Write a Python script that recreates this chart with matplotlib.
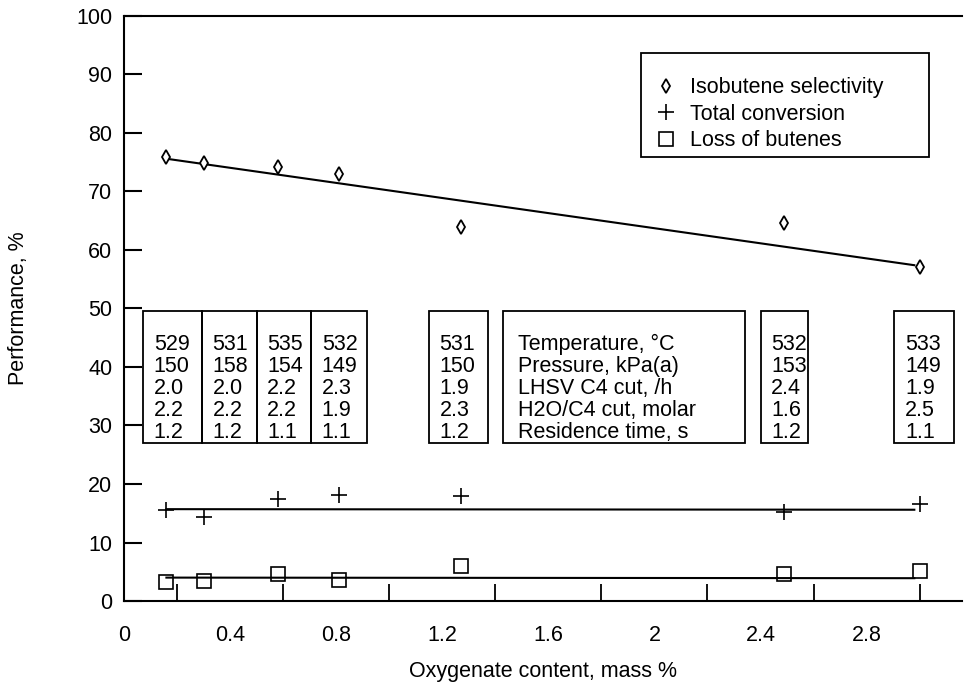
import matplotlib.pyplot as plt
from matplotlib.patches import Rectangle
import numpy as np

plt.rcParams['font.family'] = ['Liberation Sans', 'DejaVu Sans']

# Datos
oxygenate = [0.16, 0.30, 0.58, 0.81, 1.27, 2.49, 3.00]
selectivity = [75.9, 74.9, 74.2, 73.0, 63.9, 64.6, 57.1]
conversion = [15.6, 14.4, 17.4, 18.1, 18.0, 15.2, 16.6]
loss = [3.2, 3.4, 4.6, 3.6, 6.0, 4.6, 5.1]

# Lineas de tendencia (extremos)
trend_x = [0.16, 2.98]
trend_sel = [75.6, 57.4]
trend_conv = [15.7, 15.6]
trend_loss = [4.0, 3.9]

# Condiciones de operacion de cada ensayo
temperature = [529, 531, 535, 532, 531, 532, 533]
pressure = [150, 158, 154, 149, 150, 153, 149]
lhsv = [2.0, 2.0, 2.2, 2.3, 1.9, 2.4, 1.9]
h2o_ratio = [2.2, 2.2, 2.2, 1.9, 2.3, 1.6, 2.5]
residence = [1.2, 1.2, 1.1, 1.1, 1.2, 1.2, 1.1]
condition_names = ['Temperature, °C', 'Pressure, kPa(a)', 'LHSV C4 cut, /h',
                   'H2O/C4 cut, molar', 'Residence time, s']

xtick_vals = [0, 0.4, 0.8, 1.2, 1.6, 2, 2.4, 2.8]
xtick_labels = ['0', '0.4', '0.8', '1.2', '1.6', '2', '2.4', '2.8']

fig = plt.figure(figsize=(9.64, 6.86), dpi=100)
ax = fig.add_axes([0.1286, 0.1239, 0.8694, 0.8528])

ax.plot(oxygenate, selectivity, linestyle='none', marker='d', ms=7.5,
        mfc='white', mec='black', mew=1.3, label='Isobutene selectivity', zorder=3)
ax.plot(oxygenate, conversion, linestyle='none', marker='+', ms=11,
        color='black', mew=1.2, label='Total conversion', zorder=3)
ax.plot(oxygenate, loss, linestyle='none', marker='s', ms=10,
        mfc='none', mec='black', mew=1.2, label='Loss of butenes', zorder=3)

ax.plot(trend_x, trend_sel, color='black', lw=1.5)
ax.plot(trend_x, trend_conv, color='black', lw=1.5)
ax.plot(trend_x, trend_loss, color='black', lw=1.5)

# Cajas con las condiciones (posiciones en el eje x)
box_edges = [(0.072, 0.294), (0.294, 0.50), (0.50, 0.706), (0.706, 0.917),
             (1.15, 1.374), (2.40, 2.58), (2.905, 3.128)]
label_box = (1.43, 2.34)
box_bottom, box_top = 27.0, 49.6
row_y = [42.9 - 3.75 * i for i in range(5)]

for (x0, x1), t, p, l, h, r in zip(box_edges, temperature, pressure, lhsv,
                                     h2o_ratio, residence):
    ax.add_patch(Rectangle((x0, box_bottom), x1 - x0, box_top - box_bottom,
                           fill=False, ec='black', lw=1.3))
    vals = [str(t), str(p), f'{l:.1f}', f'{h:.1f}', f'{r:.1f}']
    for y, v in zip(row_y, vals):
        ax.text(x0 + 0.04, y, v, fontsize=15.5, va='baseline', ha='left')

x0, x1 = label_box
ax.add_patch(Rectangle((x0, box_bottom), x1 - x0, box_top - box_bottom,
                       fill=False, ec='black', lw=1.3))
for y, name in zip(row_y, condition_names):
    ax.text(x0 + 0.055, y, name, fontsize=15.5, va='baseline', ha='left')

# Leyenda
ax.add_patch(Rectangle((0.617, 0.759), 0.344, 0.178, transform=ax.transAxes,
                       fill=False, ec='black', lw=1.3))
ax.legend(loc='center left', bbox_to_anchor=(0.634, 0.832), frameon=False,
          fontsize=15.5, borderpad=0, handlelength=1.0, handletextpad=0.6,
          labelspacing=0.25, borderaxespad=0)

ax.set_xlim(0, 3.16)
ax.set_ylim(0, 100)
ax.set_xticks(xtick_vals)
ax.set_xticklabels(xtick_labels)
ax.set_xticks(np.arange(0.2, 3.01, 0.2), minor=True)
ax.set_yticks(range(0, 101, 10))
ax.tick_params(axis='x', which='major', direction='in', length=0, labelsize=15.5, pad=17)
ax.tick_params(axis='x', which='minor', direction='in', length=12, width=1.3)
ax.tick_params(axis='y', direction='in', length=13, width=1.5, labelsize=15.5, pad=8.5)
ax.spines['right'].set_visible(False)
for s in ['left', 'top', 'bottom']:
    ax.spines[s].set_linewidth(1.5)

ax.set_xlabel('Oxygenate content, mass %', fontsize=15.5, labelpad=11)
ax.set_ylabel('Performance, %', fontsize=15.5, labelpad=34)

fig.savefig('out.png', dpi=100)
